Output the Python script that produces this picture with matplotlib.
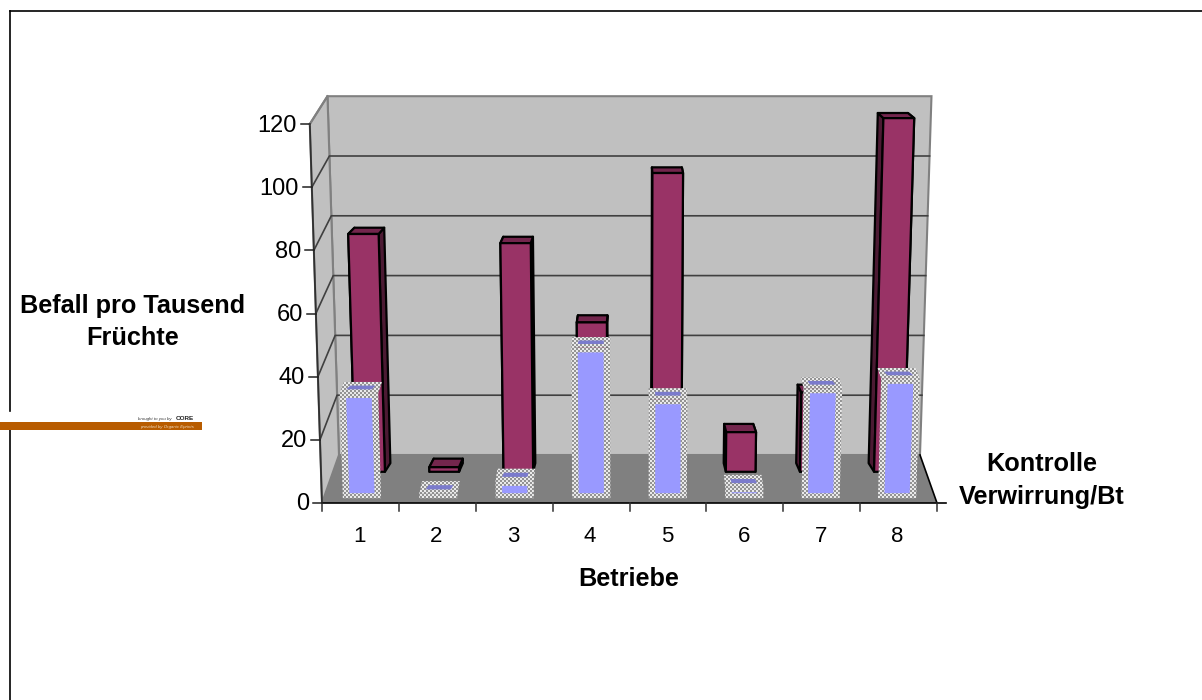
"""Excel style 3D column chart, Befall pro Tausend Fruechte."""

import numpy as np
import matplotlib
matplotlib.use("Agg")
import matplotlib.pyplot as plt
from matplotlib.patches import Polygon

plt.rcParams["font.family"] = ["Liberation Sans", "DejaVu Sans"]

# values
BETRIEBE = ["1", "2", "3", "4", "5", "6", "7", "8"]
KONTROLLE = [78, 1.5, 75, 49, 98, 13, 26, 116]
VERWIRRUNG = [33.5, 1.5, 5.5, 48, 31.5, 3.5, 35, 38]
Y_TICKS = [0, 20, 40, 60, 80, 100, 120]

# projection of the fake 3D box, in pixels
CX = 630
FRONT_Y, BACK_Y = 503, 455
FRONT_L, FRONT_R = 322, 937
BACK_L, BACK_R = 339, 920
FRONT_SCALE, BACK_SCALE = 3.158, 2.99
LEAN = 0.00033


def project(xfrac, v, d):
    # xfrac 0..1 along the category axis, v value, d depth 0 front 1 back
    left = FRONT_L + (BACK_L - FRONT_L) * d
    right = FRONT_R + (BACK_R - FRONT_R) * d
    x = left + (right - left) * xfrac
    x = CX + (x - CX) * (1 + LEAN * v)
    y = FRONT_Y + (BACK_Y - FRONT_Y) * d
    return x, y - v * (FRONT_SCALE + (BACK_SCALE - FRONT_SCALE) * d)


def box(i, v, width, d1, d2, squeeze=1.0):
    mid = (i + 0.5) / len(BETRIEBE)
    half = width / len(BETRIEBE) / 2
    a, b = mid - half, mid + half
    shrink = lambda p: (CX + (p[0] - CX) * squeeze, p[1])
    face = [project(a, 0, d1), project(b, 0, d1), project(b, v, d1), project(a, v, d1)]
    top = [project(a, v, d1), project(b, v, d1),
           shrink(project(b, v, d2)), shrink(project(a, v, d2))]
    right = [project(b, 0, d1), project(b, v, d1),
             shrink(project(b, v, d2)), shrink(project(b, 0, d2))]
    left = [project(a, 0, d1), project(a, v, d1),
            shrink(project(a, v, d2)), shrink(project(a, 0, d2))]
    return face, top, left, right


def inset(poly, dx, frac):
    # pull a quad in by dx pixels sideways and by a share of its height
    xy = np.array(poly, dtype=float)
    c = xy.mean(axis=0)
    height = xy[:, 1].max() - xy[:, 1].min()
    xy[:, 0] += np.sign(c[0] - xy[:, 0]) * dx
    xy[:, 1] += np.sign(c[1] - xy[:, 1]) * height * frac
    return xy


fig = plt.figure(figsize=(12.02, 7.0), dpi=100)
ax = fig.add_axes([0, 0, 1, 1])
ax.axis("off")

# checker texture for the frame of the front columns
yy, xx = np.mgrid[0:700, 0:1202]
checker = ((xx // 2 + yy // 2) % 2).astype(float)
texture = np.where(checker[..., None] > 0, [0.92, 0.92, 0.92], [0.58, 0.58, 0.58])


def textured(poly, z):
    patch = Polygon(poly, closed=True, fc="none", ec="none", zorder=z)
    ax.add_patch(patch)
    im = ax.imshow(texture, extent=(0, 1202, 700, 0), origin="upper",
                   interpolation="nearest", zorder=z, aspect="auto")
    im.set_clip_path(patch)


# walls and floor
back = [project(0, 0, 1), project(1, 0, 1), project(1, 120, 1), project(0, 120, 1)]
side = [project(0, 0, 0), project(0, 120, 0), project(0, 120, 1), project(0, 0, 1)]
floor = [project(0, 0, 0), project(1, 0, 0), project(1, 0, 1), project(0, 0, 1)]
ax.add_patch(Polygon(back, closed=True, fc="#c0c0c0", ec="#808080", lw=1.5, zorder=1))
ax.add_patch(Polygon(side, closed=True, fc="#c0c0c0", ec="#808080", lw=1.5, zorder=1))
ax.add_patch(Polygon(floor, closed=True, fc="#808080", ec="none", zorder=1.5))

for t in Y_TICKS[1:-1]:
    p0, p1, p2 = project(0, t, 0), project(0, t, 1), project(1, t, 1)
    ax.plot([p0[0], p1[0], p2[0]], [p0[1], p1[1], p2[1]], c="#404040", lw=1.2, zorder=2)

# axes
p0, p1 = project(0, 0, 0), project(0, 120, 0)
ax.plot([p0[0], p1[0]], [p0[1], p1[1]], c="#303030", lw=1.3, zorder=2)
ax.plot([p1[0], project(0, 120, 1)[0]], [p1[1], project(0, 120, 1)[1]], c="#808080", lw=1.5, zorder=2)
for t in Y_TICKS:
    x, y = project(0, t, 0)
    ax.plot([x - 9, x], [y, y], c="#202020", lw=1.1, zorder=2)
    ax.text(x - 13, y + 1.5, str(t), ha="right", va="center", fontsize=17, color="black")

ax.plot([FRONT_L, FRONT_R + 9], [FRONT_Y, FRONT_Y], c="black", lw=1.2, zorder=6)
edge = [project(1, 0, 0), project(1, 0, 1)]
ax.plot([edge[0][0], edge[1][0]], [edge[0][1], edge[1][1]], c="black", lw=1.2, zorder=2)
for i in range(len(BETRIEBE) + 1):
    x = project(i / len(BETRIEBE), 0, 0)[0]
    ax.plot([x, x], [FRONT_Y, FRONT_Y + 8], c="#303030", lw=1.1, zorder=6)
for i, name in enumerate(BETRIEBE):
    x = project((i + 0.5) / len(BETRIEBE), 0, 0)[0]
    ax.text(x - 1, 536, name, ha="center", va="center", fontsize=16, color="black")

# rear series
for i, v in enumerate(KONTROLLE):
    face, top, left, right = box(i, v, 0.4, 0.65, 0.83, squeeze=0.988)
    for poly, col in [(left, "#4c1a33"), (right, "#4c1a33"), (top, "#73264d"), (face, "#993366")]:
        ax.add_patch(Polygon(poly, closed=True, fc=col, ec="black", lw=1.6,
                             joinstyle="round", zorder=3 + i * 0.01))

# front series, the side faces hardly show so only face and top are drawn
for i, v in enumerate(VERWIRRUNG):
    face, top, left, right = box(i, v, 0.5, 0.1, 0.36)
    z = 4 + i * 0.01
    textured(top, z)
    textured(face, z + 0.001)
    ax.add_patch(Polygon(inset(top, 6.5, 0.33), closed=True, fc="#7b7bcc", ec="none",
                         zorder=z + 0.002))
    if v > 3:
        blue = inset(face, 6.5, 0)
        blue[:2, 1] -= 5
        blue[2:, 1] += 5
        ax.add_patch(Polygon(blue, closed=True, fc="#9999ff", ec="none", zorder=z + 0.002))

# labels
bold = dict(ha="center", va="center", fontsize=18.2, fontweight="bold", color="black")
ax.text(133, 306, "Befall pro Tausend", **bold)
ax.text(133, 338, "Früchte", **bold)
ax.text(1042, 464, "Kontrolle", **bold)
ax.text(1042, 497, "Verwirrung/Bt", **bold)
ax.text(629, 579, "Betriebe", **bold)

# slide border and the repository banner
ax.plot([10, 1202], [11, 11], c="black", lw=1.2, zorder=1)
ax.plot([10, 10], [11, 411], c="black", lw=1.2, zorder=1)
ax.plot([10, 10], [430, 700], c="black", lw=1.2, zorder=1)
ax.fill_between([0, 202], 422, 430, color="#b85c00", lw=0, zorder=7)
ax.text(172, 419, "brought to you by", ha="right", va="center", fontsize=3.2, style="italic", color="#333333")
ax.text(194, 418, "CORE", ha="right", va="center", fontsize=4.6, fontweight="bold", color="#222222")
ax.text(194, 427, "provided by Organic Eprints", ha="right", va="center", fontsize=3.2,
        style="italic", color="#f0dcc0", zorder=8)

ax.set_xlim(0, 1202)
ax.set_ylim(700, 0)
fig.savefig("out.png", dpi=100)
